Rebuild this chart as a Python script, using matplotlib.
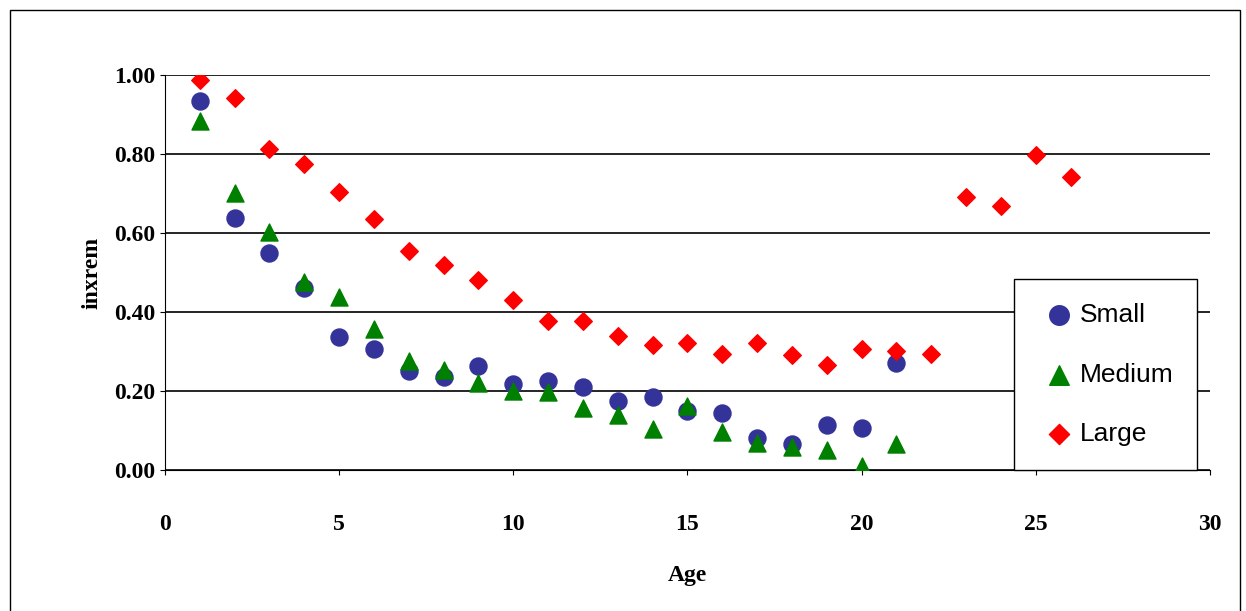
import matplotlib
matplotlib.use("Agg")
import matplotlib.pyplot as plt
from matplotlib.patches import Rectangle

small_x = list(range(1, 22))
small_y = [0.934,0.638,0.549,0.461,0.337,0.306,0.251,0.235,0.263,0.218,0.225,0.210,0.175,0.185,0.149,0.144,0.081,0.066,0.114,0.106,0.271]
medium_x = list(range(1, 22))
medium_y = [0.884,0.701,0.603,0.476,0.438,0.357,0.276,0.253,0.220,0.200,0.197,0.157,0.139,0.104,0.162,0.096,0.068,0.058,0.051,0.010,0.066]
large_x = list(range(1, 27))
large_y = [0.987,0.942,0.813,0.775,0.704,0.635,0.554,0.519,0.481,0.430,0.377,0.377,0.339,0.316,0.322,0.294,0.322,0.291,0.266,0.306,0.301,0.294,0.691,0.668,0.797,0.742]

fig = plt.figure(figsize=(12.46, 6.11), dpi=100)
fig.patches.append(Rectangle((0.008, -0.01), 0.987, 0.993, transform=fig.transFigure,
                             fill=False, edgecolor='black', linewidth=1))
ax = fig.add_axes([0.1324, 0.2308, 0.8386, 0.6462])
ax.scatter(small_x, small_y, marker='o', s=150, color='#333399', label='Small', zorder=3)
ax.scatter(medium_x, medium_y, marker='^', s=150, color='#008000', label='Medium', zorder=3)
ax.scatter(large_x, large_y, marker='D', s=80, color='#FF0000', label='Large', zorder=3)
ax.set_xlim(0, 30)
ax.set_ylim(0, 1.0)
ax.set_xticks(range(0, 31, 5))
ax.set_yticks([0, 0.2, 0.4, 0.6, 0.8, 1.0])
ax.set_yticklabels([f"{v:.2f}" for v in [0, 0.2, 0.4, 0.6, 0.8, 1.0]])
ax.yaxis.grid(True, color='black', linewidth=1.2)
ax.set_axisbelow(True)
for s in ['top', 'right']:
    ax.spines[s].set_visible(False)
ax.tick_params(labelsize=17, direction='out')
ax.tick_params(axis='x', pad=28)
for lbl in ax.get_xticklabels() + ax.get_yticklabels():
    lbl.set_fontfamily('Liberation Serif'); lbl.set_fontweight('bold')
ax.set_xlabel('Age', fontsize=17, fontweight='bold', family='Liberation Serif', labelpad=22)
ax.set_ylabel('inxrem', fontsize=17, fontweight='bold', family='Liberation Serif', labelpad=8)
leg = ax.legend(loc='lower right', bbox_to_anchor=(0.988, 0.0), prop={'family': 'Liberation Sans', 'size': 19},
                frameon=True, fancybox=False, edgecolor='black', framealpha=1,
                handletextpad=0.0, labelspacing=1.35, borderpad=0.9, markerscale=1.15,
                handlelength=1.6, borderaxespad=0)
leg.get_frame().set_linewidth(1)
fig.savefig('out.png', dpi=100)
